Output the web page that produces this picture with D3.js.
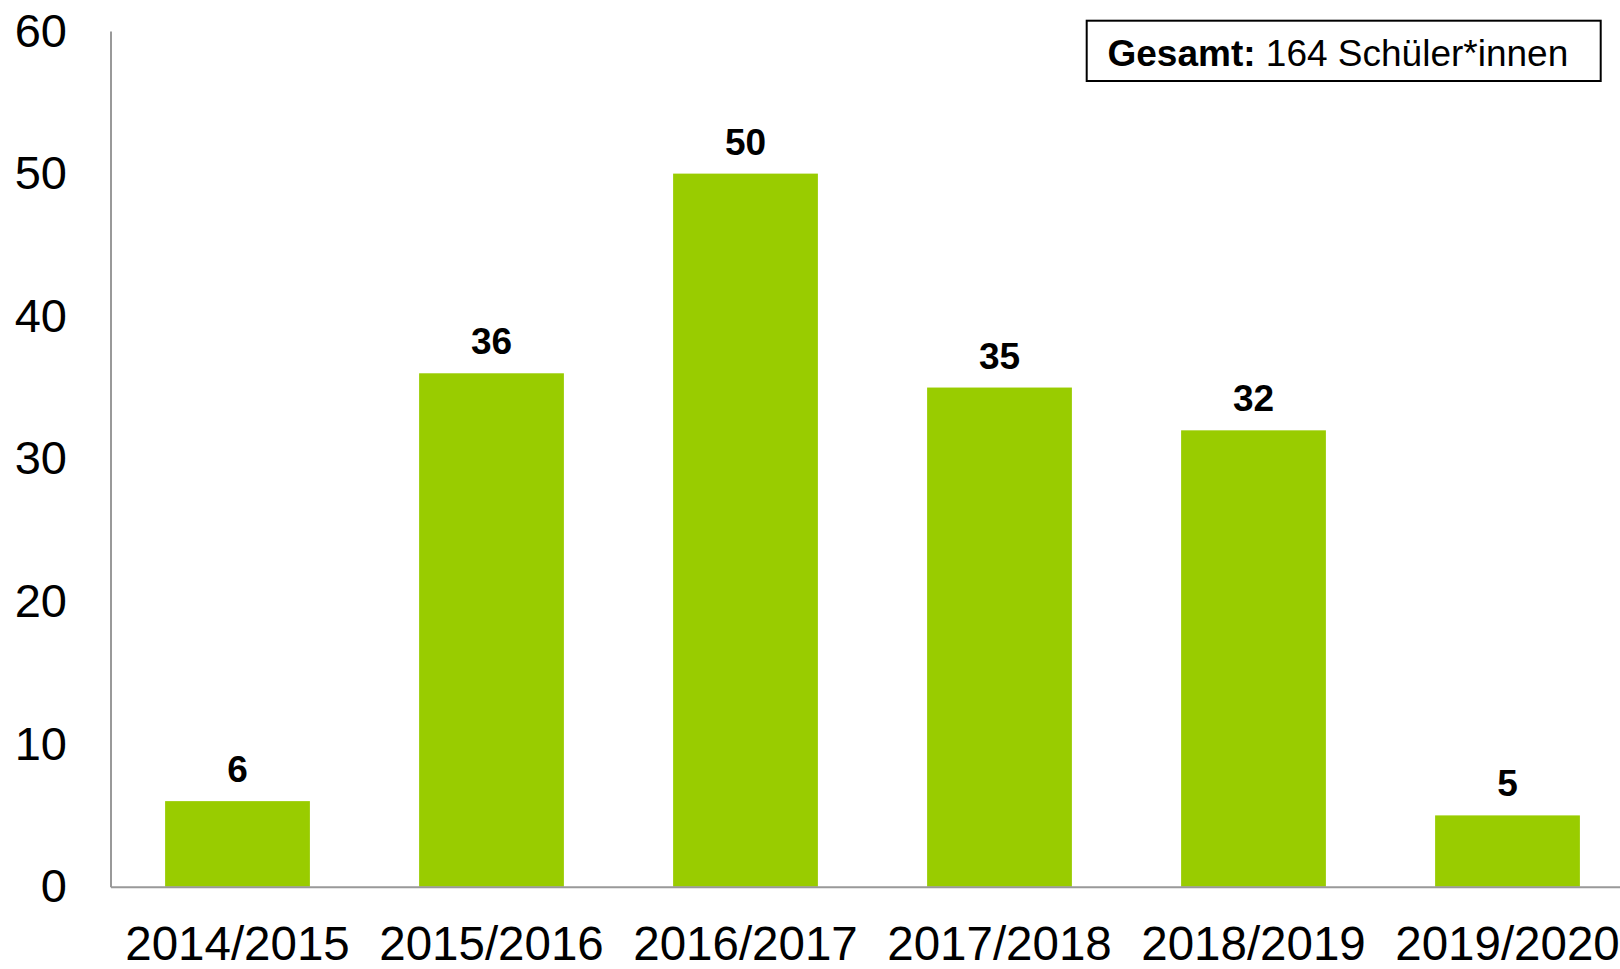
<!DOCTYPE html>
<html>
<head>
<meta charset="utf-8">
<script src="https://cdn.jsdelivr.net/npm/d3@7"></script>
<style>
  html, body { margin: 0; padding: 0; background: #fff; }
  svg { display: block; font-family: "Liberation Sans", Arial, sans-serif; }
</style>
</head>
<body>
<div id="vis"></div>
<script>
const categories = ["2014/2015", "2015/2016", "2016/2017", "2017/2018", "2018/2019", "2019/2020"];
const values = [6, 36, 50, 35, 32, 5];
const yTicks = [0, 10, 20, 30, 40, 50, 60];
const totalLabel = "Gesamt:";
const totalText = " 164 Schüler*innen";

const [width, height] = [1620, 969];
const x0 = 110.5, y0 = 886.7, yTop = 31;

const svg = d3.select('#vis').append('svg')
  .attr('width', width).attr('height', height)
  .attr('viewBox', [0, 0, width, height]);

const x = d3.scaleBand()
  .domain(categories)
  .range([x0, x0 + 254 * categories.length])
  .paddingInner(0.43)
  .paddingOuter(0.215);

const y = d3.scaleLinear().domain([0, 60]).range([y0, yTop]);

// bars
svg.selectAll('rect.bar')
  .data(values)
  .join('rect')
    .attr('class', 'bar')
    .attr('x', (d, i) => x(categories[i]))
    .attr('y', d => y(d))
    .attr('width', x.bandwidth())
    .attr('height', d => y0 - y(d))
    .attr('fill', '#99cc00');

// value labels
svg.selectAll('text.val')
  .data(values)
  .join('text')
    .attr('class', 'val')
    .attr('x', (d, i) => x(categories[i]) + x.bandwidth() / 2)
    .attr('y', d => y(d) - 19)
    .attr('text-anchor', 'middle')
    .attr('font-size', 37)
    .attr('font-weight', 'bold')
    .attr('fill', '#000')
    .text(d => d);

// y axis
const yAxis = d3.axisLeft(y).tickValues(yTicks).tickSize(0).tickPadding(43.5);
const gy = svg.append('g').attr('transform', `translate(${x0},0)`).call(yAxis);
gy.select('.domain').attr('stroke', '#999').attr('stroke-width', 2);
gy.selectAll('text').attr('font-size', 47).attr('fill', '#000')
  .attr('font-family', '"Liberation Sans", Arial, sans-serif');

// x axis
const xAxis = d3.axisBottom(x).tickSize(0).tickPadding(40);
const gx = svg.append('g').attr('transform', `translate(0,${y0})`).call(xAxis);
gx.select('.domain').attr('stroke', '#999').attr('stroke-width', 2);
gx.selectAll('text').attr('font-size', 47.5).attr('fill', '#000')
  .attr('font-family', '"Liberation Sans", Arial, sans-serif');

// total box
svg.append('rect')
  .attr('x', 1086.7).attr('y', 20.7)
  .attr('width', 514).attr('height', 60.3)
  .attr('fill', '#fff').attr('stroke', '#000').attr('stroke-width', 2);
const t = svg.append('text')
  .attr('x', 1107.5).attr('y', 65.5)
  .attr('font-size', 37).attr('fill', '#000');
t.append('tspan').attr('font-weight', 'bold').text(totalLabel);
t.append('tspan').text(totalText);
</script>
</body>
</html>
